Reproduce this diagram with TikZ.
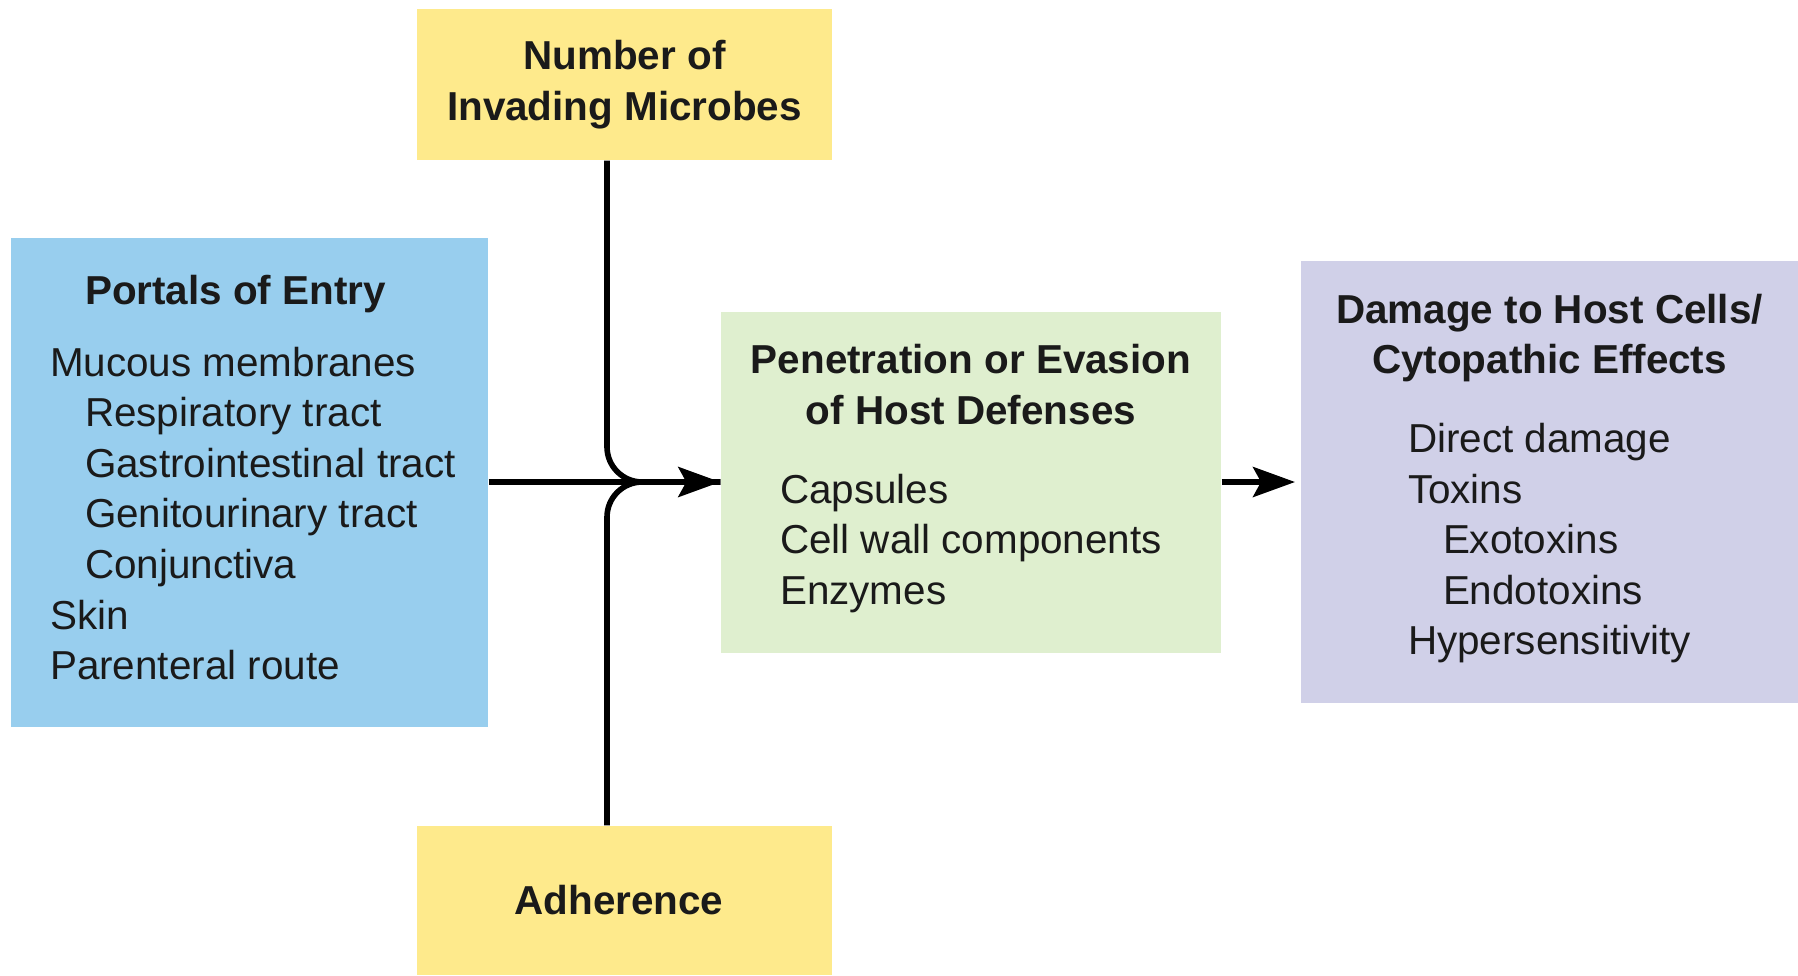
\documentclass[tikz,border=0pt]{standalone}
\usepackage{fontspec}
\setmainfont{Liberation Sans}
\usetikzlibrary{arrows.meta,positioning,calc}
\definecolor{portalblue}{HTML}{98CEEE}
\definecolor{factoryellow}{HTML}{FEEA8C}
\definecolor{defensegreen}{HTML}{DFEFCF}
\definecolor{damagelilac}{HTML}{D0D0E8}
\definecolor{ink}{HTML}{1A1A1A}
\newcommand{\ind}{\hspace*{0.35cm}}

\begin{document}
\begin{tikzpicture}[
    every node/.style={text=ink},
    box/.style={
        rectangle, inner sep=0pt,
        align=center,
        font=\fontsize{11.5}{14.4}\selectfont,
    },
    portal/.style={box, fill=portalblue, minimum width=4.77cm, minimum height=4.89cm},
    factor/.style={box, fill=factoryellow, font=\fontsize{11.5}{14.4}\selectfont\bfseries,
        minimum width=4.15cm, minimum height=1.51cm},
    defense/.style={box, fill=defensegreen, minimum width=5.0cm, minimum height=3.41cm},
    damage/.style={box, fill=damagelilac, minimum width=4.97cm, minimum height=4.42cm},
    flow/.style={-{Stealth[length=4.2mm,width=3mm,inset=0.8mm]}, line width=1.6pt, draw=black},
    merge/.style={line width=1.6pt, draw=black, rounded corners=10pt},
]

\useasboundingbox (0,0) rectangle (17.98,-9.75);

% =============================================================
% BOXES
% =============================================================

\node[portal] (portals) at (2.495,-4.82) {
    \begin{tabular}{@{\hspace*{0.18cm}}l@{}}
        \ind\textbf{Portals of Entry} \\[6pt]
        Mucous membranes \\
        \ind Respiratory tract \\
        \ind Gastrointestinal tract \\
        \ind Genitourinary tract \\
        \ind Conjunctiva \\
        Skin \\
        Parenteral route
    \end{tabular}
};

\node[factor] (numbers) at (6.245,-0.845) {
    Number of \\ Invading Microbes
};

\node[factor, minimum height=1.49cm] (adhere) at (6.245,-9.005) {
    Adherence
};

\node[defense] (evasion) at (9.71,-4.82) {
    \textbf{Penetration or Evasion} \\
    \textbf{of Host Defenses} \\[8pt]
    \begin{tabular}[t]{@{}l@{}}
        Capsules \\
        Cell wall components \\
        Enzymes
    \end{tabular}
};

\node[damage] (damage) at (15.495,-4.82) {
    \textbf{Damage to Host Cells/} \\
    \textbf{Cytopathic Effects} \\[8pt]
    \begin{tabular}[t]{@{}l@{}}
        Direct damage \\
        Toxins \\
        \ind Exotoxins \\
        \ind Endotoxins \\
        Hypersensitivity
    \end{tabular}
};

% =============================================================
% CONNECTORS
% =============================================================

\coordinate (join) at (6.07,-4.82);

\draw[merge] (join |- numbers.south) |- (evasion.west);
\draw[merge] (join |- adhere.north) |- (evasion.west);
\draw[flow] (portals.east) -- (evasion.west);
\draw[flow, shorten >=1.5pt] (evasion.east) -- (damage.west);

\end{tikzpicture}
\end{document}
